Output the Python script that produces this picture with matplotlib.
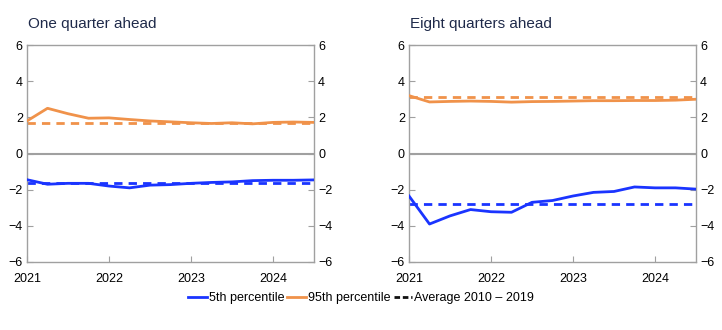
import matplotlib
matplotlib.use("Agg")
import matplotlib.pyplot as plt
from matplotlib.lines import Line2D
import numpy as np

plt.rcParams['font.family'] = ['Liberation Sans', 'DejaVu Sans']

quarters = np.arange(2021.0, 2024.75, 0.25)  # 2021Q1 .. 2024Q3

one_p95 = [1.8, 2.5, 2.2, 1.95, 1.97, 1.88, 1.8, 1.75, 1.7, 1.66, 1.7, 1.64, 1.72, 1.74, 1.72]
one_p5 = [-1.45, -1.7, -1.65, -1.65, -1.8, -1.9, -1.75, -1.72, -1.65, -1.6, -1.57, -1.5, -1.48, -1.48, -1.46]
one_avg95 = 1.7
one_avg5 = -1.65

eight_p95 = [3.2, 2.85, 2.88, 2.9, 2.88, 2.84, 2.87, 2.88, 2.9, 2.92, 2.92, 2.93, 2.93, 2.95, 3.0]
eight_p5 = [-2.35, -3.9, -3.45, -3.1, -3.22, -3.25, -2.7, -2.6, -2.35, -2.15, -2.1, -1.85, -1.9, -1.9, -1.97]
eight_avg95 = 3.1
eight_avg5 = -2.8

titles = ["One quarter ahead", "Eight quarters ahead"]
year_ticks = [2021, 2022, 2023, 2024]
y_ticks = [-6, -4, -2, 0, 2, 4, 6]
legend_labels = ["5th percentile", "95th percentile", "Average 2010 \u2013 2019"]

BLUE = "#1a34ff"
ORANGE = "#f0924a"
GRID = "#a0a0a0"
TITLE = "#1f2a4a"

fig = plt.figure(figsize=(7.22, 3.30), dpi=100)
bottom = 1 - 262 / 330
height = (262 - 45) / 330
axes = [fig.add_axes([27 / 722, bottom, 287 / 722, height]),
        fig.add_axes([409 / 722, bottom, 287 / 722, height])]

data = [(one_p5, one_p95, one_avg5, one_avg95), (eight_p5, eight_p95, eight_avg5, eight_avg95)]

for ax, (p5, p95, a5, a95), title in zip(axes, data, titles):
    ax.axhline(0, color=GRID, lw=1.5, zorder=1)
    ax.plot([quarters[0], quarters[-1]], [a95, a95], color=ORANGE, lw=2, ls=(0, (3, 2.2)), zorder=2)
    ax.plot([quarters[0], quarters[-1]], [a5, a5], color=BLUE, lw=2, ls=(0, (3, 2.2)), zorder=2)
    ax.plot(quarters, p5, color=BLUE, lw=2, zorder=3)
    ax.plot(quarters, p95, color=ORANGE, lw=2, zorder=3)
    ax.set_xlim(quarters[0], quarters[-1])
    ax.set_ylim(-6, 6)
    ax.set_yticks(y_ticks)
    ax.set_yticklabels([str(v).replace('-', '\u2212') for v in y_ticks])
    ax.set_xticks(year_ticks)
    ax.set_xticklabels([str(y) for y in year_ticks])
    ax.tick_params(axis='y', which='both', left=True, right=True, labelleft=True, labelright=True,
                   direction='in', length=4, color=GRID, labelsize=9, pad=3)
    ax.tick_params(axis='x', direction='in', length=4, color=GRID, labelsize=9, pad=8)
    for s in ax.spines.values():
        s.set_color(GRID)
        s.set_linewidth(1)
    ax.text(0.005, 1.078, title, transform=ax.transAxes, fontsize=11, color=TITLE,
            ha='left', va='baseline')

handles = [Line2D([], [], color=BLUE, lw=2),
           Line2D([], [], color=ORANGE, lw=2),
           Line2D([], [], color='#111111', lw=2, ls=(0, (2, 1)))]

fig.legend(handles=handles, labels=legend_labels, loc='center',
           bbox_to_anchor=(0.5, 1 - 298 / 330), ncol=3, frameon=False, fontsize=9,
           handlelength=1.5, handletextpad=0.15, columnspacing=0.25)

fig.savefig("out.png", dpi=100)
